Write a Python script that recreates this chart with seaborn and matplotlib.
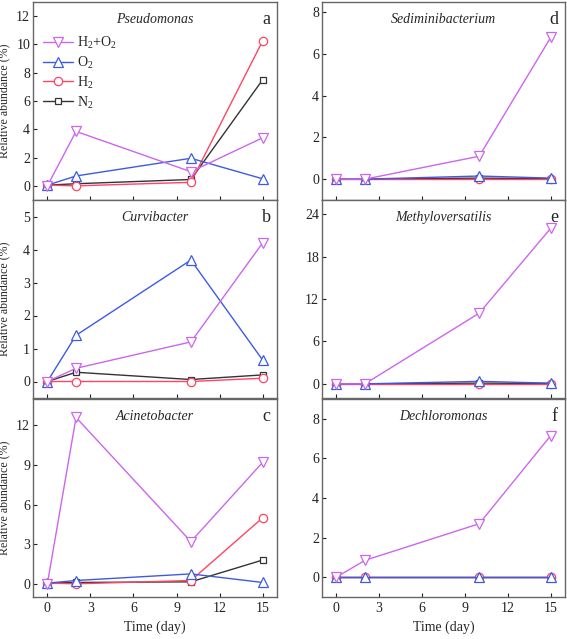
import pandas as pd
import matplotlib
matplotlib.use("Agg")
import matplotlib.pyplot as plt
import seaborn as sns

# Dados (dias de amostragem)
days = [0, 2, 10, 15]

genera = ["Pseudomonas", "Curvibacter", "Acinetobacter",
          "Sediminibacterium", "Methyloversatilis", "Dechloromonas"]
letters = ["a", "b", "c", "d", "e", "f"]

h2o2 = [[0.0, 3.85, 1.0, 3.4],
        [0.0, 0.4, 1.2, 4.2],
        [0.0, 12.6, 3.2, 9.2],
        [0.0, 0.0, 1.1, 6.8],
        [0.0, 0.0, 10.0, 22.0],
        [0.0, 0.85, 2.7, 7.15]]
o2 = [[0.05, 0.7, 1.95, 0.5],
      [0.0, 1.4, 3.68, 0.65],
      [0.05, 0.25, 0.75, 0.1],
      [0.0, 0.0, 0.15, 0.05],
      [0.0, 0.0, 0.35, 0.1],
      [0.0, 0.0, 0.0, 0.0]]
h2 = [[0.05, 0.0, 0.25, 10.25],
      [0.0, 0.0, 0.0, 0.1],
      [0.05, 0.0, 0.25, 5.0],
      [0.0, 0.0, 0.0, 0.0],
      [0.0, 0.0, 0.0, 0.0],
      [0.0, 0.0, 0.0, 0.0]]
n2 = [[0.05, 0.15, 0.45, 7.5],
      [0.0, 0.28, 0.06, 0.2],
      [0.05, 0.1, 0.15, 1.8],
      [0.0, 0.0, 0.05, 0.02],
      [0.0, 0.0, 0.1, 0.05],
      [0.0, 0.0, 0.0, 0.0]]

series_labels = ["H$_2$+O$_2$", "O$_2$", "H$_2$", "N$_2$"]
series_data = [h2o2, o2, h2, n2]
series_colors = ["#CC66EE", "#3D5BE0", "#FF4466", "#333333"]
series_markers = ["v", "^", "o", "s"]
series_msize = [7, 7, 6, 4.5]

ylims = [(-1, 13), (-0.5, 5.5), (-1, 14), (-1, 8.5), (-2, 26), (-1, 9)]
yticks = [[0, 2, 4, 6, 8, 10, 12], [0, 1, 2, 3, 4, 5], [0, 3, 6, 9, 12],
          [0, 2, 4, 6, 8], [0, 6, 12, 18, 24], [0, 2, 4, 6, 8]]

sns.set_style("ticks")
plt.rcParams["font.family"] = ["Liberation Serif", "DejaVu Serif"]
plt.rcParams["mathtext.fontset"] = "custom"
plt.rcParams["mathtext.rm"] = "Liberation Serif"
plt.rcParams["font.size"] = 10

W, H = 567, 639
fig = plt.figure(figsize=(W / 100, H / 100), dpi=100)

col_x = [33 / W, 322 / W]
col_w = [244 / W, 243 / W]
row_top = [2, 200, 399]
row_h = 198

for i, genus in enumerate(genera):
    col, row = divmod(i, 3)
    ax = fig.add_axes([col_x[col], 1 - (row_top[row] + row_h) / H, col_w[col], row_h / H])
    for k, (lab, data, c, m, ms) in enumerate(zip(series_labels, series_data, series_colors,
                                                  series_markers, series_msize)):
        sns.lineplot(x=days, y=data[i], ax=ax, color=c, marker=m, markersize=ms,
                     markerfacecolor="white", markeredgecolor=c, markeredgewidth=0.9,
                     linewidth=1.0, label=lab, legend=False, zorder=6 - k)
    ax.set_xlim(-1, 16)
    ax.set_ylim(*ylims[i])
    ax.set_xticks([0, 3, 6, 9, 12, 15])
    ax.set_yticks(yticks[i])
    ax.tick_params(direction="in", length=3, width=0.8, labelsize=10, colors="#222222")
    ax.tick_params(axis="y", pad=2)
    for sp in ax.spines.values():
        sp.set_color("#666666")
        sp.set_linewidth(1.0)
    if row < 2:
        ax.tick_params(labelbottom=False)
        ax.set_xlabel("")
    else:
        ax.set_xlabel("Time (day)", fontsize=10)
    if col == 0:
        ax.set_ylabel("Relative abundance (%)", fontsize=8.6)
        ax.yaxis.set_label_coords(-0.092, 0.5)
    else:
        ax.set_ylabel("")
    ax.text(0.5, 0.91, genus, transform=ax.transAxes, ha="center", va="center",
            fontsize=10, style="italic")
    ax.text(0.955, 0.91, letters[i], transform=ax.transAxes, ha="center", va="center",
            fontsize=13)
    if i == 0:
        ax.legend(loc="upper left", bbox_to_anchor=(0.0, 0.885), frameon=False,
                  fontsize=10, handlelength=2.2, handletextpad=0.3, labelspacing=0.25,
                  borderaxespad=0.3)

fig.savefig("out.png", dpi=100)
